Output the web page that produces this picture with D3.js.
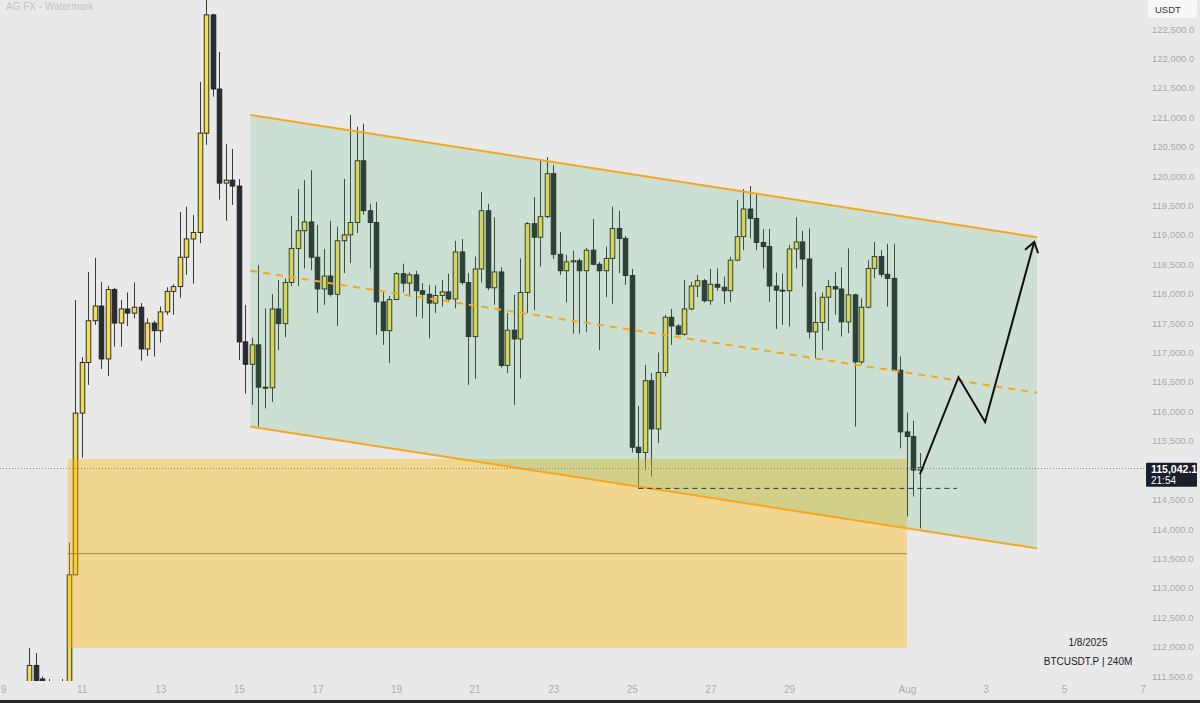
<!DOCTYPE html>
<html><head><meta charset="utf-8">
<script src="https://cdn.jsdelivr.net/npm/d3@7"></script>
<style>html,body{margin:0;padding:0;background:#e9e9e9;overflow:hidden}svg{display:block}</style>
</head><body><svg id="c" width="1200" height="703"></svg>
<script>
// ---------------- DATA ----------------
const firstCandle = "2025-07-09T16:00:00Z";   // 4h candles, BTCUSDT.P
const candleHours = 4;
const opens = [111200,111680,111450,111400,111100,111300,111200,113220,115970,116830,117540,117790,116890,118070,117500,117740,117670,117770,117060,117500,117370,117690,118040,118120,118620,118930,119040,120730,122740,121480,119880,119930,119830,117180,116800,117130,116410,116400,117740,117490,118190,118770,119070,119220,118620,118080,118300,117990,118900,119000,119210,120260,119410,119210,117860,117370,117900,118340,118180,118320,118050,117990,117840,117970,118030,117910,118710,118190,117270,118420,119410,118100,118370,116780,117380,117230,118020,119190,118960,119310,120040,118670,118390,118540,118560,118390,118740,118500,118390,118600,119110,118940,118310,115390,115300,116520,115700,116660,117600,117450,117310,117740,118130,118220,117880,118160,118110,118050,118570,118970,119440,119280,118870,118800,118130,118060,118050,118760,118880,118590,117350,117510,117940,118120,118080,117520,117980,116840,117770,118430,118630,118330,118260,116700,115650,115570,115000];
const highs = [111980,111890,111490,111450,111400,111450,113770,117890,116920,118370,118610,118200,118130,118100,117890,118020,118190,117840,117580,117540,117780,118110,118160,119390,119480,119340,121600,123200,122760,122110,120540,120460,119950,117810,117250,118490,117750,117990,118230,118260,119320,119780,119930,120100,119170,118760,119240,119140,119950,121040,120840,120890,119530,119560,118050,117960,118370,118510,118360,118390,118180,118150,118140,118230,118340,118900,118930,118350,118630,119730,119530,119300,118450,117670,117980,118600,119220,119640,120260,120320,120190,119050,118660,118730,118600,118780,119270,118540,118800,119480,119410,118980,118420,116090,116790,116650,117000,117640,117740,117480,118230,118200,118320,118250,118420,118430,118290,118630,119590,119780,119830,119700,119100,119100,118360,118340,118830,119300,119070,119110,118030,118020,118230,118370,118450,118770,118000,117920,118570,118880,118740,118850,118850,116930,115980,115840,115290];
const lows = [111150,111150,111300,111000,110900,111000,111100,113220,115210,116450,117470,116720,116600,117100,117100,117450,117580,116860,116940,116930,117170,117640,117640,117930,118320,118170,118860,120530,121350,119600,119240,119510,116870,116300,116110,115740,116050,116160,117040,117260,118130,118130,118430,118400,117670,117810,117950,117450,118350,118520,119030,119340,118430,117300,117130,116820,117890,118020,117950,117610,117580,117240,117670,117780,117880,117750,118150,116450,116550,118190,118060,117810,116740,116650,116110,116560,117670,117720,118460,119280,118590,118320,117850,117320,117320,117350,118480,117040,117940,117830,118350,118150,115300,114690,115000,114890,115460,116590,117130,117290,117290,117720,117940,117850,117810,118050,117830,117860,118550,118740,118940,118740,118430,117860,117400,117470,117440,118430,118120,117240,116900,117040,117370,117640,117270,117330,115740,116800,117750,118260,118280,117780,116690,115370,114210,114550,114010];
const closes = [111680,111250,111400,111100,111300,111200,113220,115970,116830,117540,117790,116890,118070,117500,117740,117670,117770,117060,117500,117370,117690,118040,118120,118620,118930,119040,120730,122740,121480,119880,119930,119830,117180,116800,117130,116410,116400,117740,117490,118190,118770,119070,119220,118620,118080,118300,117990,118900,119000,119210,120260,119410,119210,117860,117370,117900,118340,118180,118320,118050,117990,117840,117970,118030,117910,118710,118190,117270,118420,119410,118100,118370,116780,117380,117230,118020,119190,118960,119310,120040,118670,118390,118540,118560,118390,118740,118500,118390,118600,119110,118940,118310,115390,115300,116520,115700,116660,117600,117450,117310,117740,118130,118220,117880,118160,118110,118050,118570,118970,119440,119280,118870,118800,118130,118060,118050,118760,118880,118590,117350,117510,117940,118120,118080,117520,117980,116840,117770,118430,118630,118330,118260,116700,115650,115570,115000,115042.1];

// 115,000.0 is hidden behind the last-price label in the reference
const priceTicks = [111500,112000,112500,113000,113500,114000,114500,115500,116000,116500,117000,117500,118000,118500,119000,119500,120000,120500,121000,121500,122000,122500];
const dayTicks = ["2025-07-09","2025-07-11","2025-07-13","2025-07-15","2025-07-17","2025-07-19","2025-07-21","2025-07-23","2025-07-25","2025-07-27","2025-07-29","2025-08-01","2025-08-03","2025-08-05","2025-08-07"];
const dayTickLabels = ["9","11","13","15","17","19","21","23","25","27","29","Aug","3","5","7"];

// drawings (time, price)
const channelTop = [["2025-07-15T07:00:00Z",121040],["2025-08-04T07:30:00Z",118960]];
const channelBottom = [["2025-07-15T07:00:00Z",115740],["2025-08-04T07:30:00Z",113670]];
const channelMid = [["2025-07-15T07:00:00Z",118390],["2025-08-04T07:30:00Z",116315]];
const zoneTimes = ["2025-07-10T15:30:00Z","2025-08-01T00:00:00Z"];
const zonePrices = [115190,111980];
const zoneMidPrice = 113580;
const supportLine = [["2025-07-25T04:00:00Z",114690],["2025-08-02T06:30:00Z",114690]];
const arrowPath = [["2025-08-01T08:00:00Z",114930],["2025-08-02T07:30:00Z",116580],["2025-08-02T23:45:00Z",115820],["2025-08-04T05:45:00Z",118880]];
const lastPrice = 115042.1;
const countdown = "21:54";
const dateText = "1/8/2025";
const symbolText = "BTCUSDT.P | 240M";
const watermark = "AG FX - Watermark";
const currency = "USDT";

// ---------------- CHART ----------------
const svg = d3.select("#c");
const W = 1200, H = 703, plotR = 1145, plotB = 681;
const FONT = "Liberation Sans, Arial, sans-serif";
const x = d3.scaleUtc().domain([new Date("2025-07-09T00:00:00Z"), new Date("2025-08-07T00:00:00Z")]).range([3, 1142.7]);
const y = d3.scaleLinear().domain([111500, 122500]).range([676, 29]);
const t0 = new Date(firstCandle).getTime();
const candles = opens.map((o, i) => ({t: new Date(t0 + i * candleHours * 3600e3), o, h: highs[i], l: lows[i], c: closes[i]}));
const P = p => [x(new Date(p[0])), y(p[1])];

svg.append("rect").attr("width", W).attr("height", H).attr("fill", "#e9e9e9");
const defs = svg.append("defs");
defs.append("clipPath").attr("id", "plot").append("rect").attr("x", 0).attr("y", 0).attr("width", plotR).attr("height", plotB);
const plot = svg.append("g").attr("clip-path", "url(#plot)");

// watermark
svg.append("text").attr("x", 6).attr("y", 10).text(watermark)
  .attr("font-family", FONT).attr("font-size", 10).attr("fill", "#c4c4c4");

// candles
const bw = 4.6;
const cg = plot.append("g");
cg.selectAll("line.w").data(candles).join("line").attr("class", "w")
  .attr("x1", d => Math.round(x(d.t)) + 0.5).attr("x2", d => Math.round(x(d.t)) + 0.5)
  .attr("y1", d => y(d.h)).attr("y2", d => y(d.l))
  .attr("stroke", "#3a3a3a").attr("stroke-width", 1);
cg.selectAll("rect.b").data(candles).join("rect").attr("class", "b")
  .attr("x", d => Math.round(x(d.t)) + 0.5 - bw / 2)
  .attr("y", d => y(Math.max(d.o, d.c)))
  .attr("width", bw)
  .attr("height", d => Math.max(1, Math.abs(y(d.o) - y(d.c))))
  .attr("fill", d => d.c >= d.o ? "#f5dc55" : "#282c33")
  .attr("stroke", "#1e1e1e").attr("stroke-width", 0.9);

// orange demand zone
const zx0 = x(new Date(zoneTimes[0])), zx1 = x(new Date(zoneTimes[1]));
plot.append("rect").attr("x", zx0).attr("y", y(zonePrices[0])).attr("width", zx1 - zx0)
  .attr("height", y(zonePrices[1]) - y(zonePrices[0])).attr("fill", "rgba(255,183,0,0.38)");
plot.append("line").attr("x1", zx0).attr("x2", zx1).attr("y1", y(zoneMidPrice)).attr("y2", y(zoneMidPrice))
  .attr("stroke", "#9a8550").attr("stroke-width", 1);

// channel fill
const ct0 = P(channelTop[0]), ct1 = P(channelTop[1]), cb0 = P(channelBottom[0]), cb1 = P(channelBottom[1]);
plot.append("path").attr("d", `M${ct0}L${ct1}L${cb1}L${cb0}Z`).attr("fill", "rgba(60,180,100,0.17)");
const line = d3.line();
plot.append("path").attr("d", line([ct0, ct1])).attr("stroke", "#f5a623").attr("stroke-width", 2).attr("fill", "none");
plot.append("path").attr("d", line([cb0, cb1])).attr("stroke", "#f5a623").attr("stroke-width", 2).attr("fill", "none");
plot.append("path").attr("d", line(channelMid.map(P))).attr("stroke", "#f5a623").attr("stroke-width", 2)
  .attr("stroke-dasharray", "7,6").attr("fill", "none");

// support dashed line
plot.append("path").attr("d", line(supportLine.map(P))).attr("stroke", "#333").attr("stroke-width", 1)
  .attr("stroke-dasharray", "5,4").attr("fill", "none");

// current price dotted line
plot.append("line").attr("x1", 0).attr("x2", plotR).attr("y1", Math.round(y(lastPrice)) + 0.5).attr("y2", Math.round(y(lastPrice)) + 0.5)
  .attr("stroke", "#8a8a8a").attr("stroke-width", 1).attr("stroke-dasharray", "1,2");

// projected path arrow
const ap = arrowPath.map(P);
plot.append("path").attr("d", line(ap)).attr("stroke", "#111").attr("stroke-width", 2).attr("fill", "none")
  .attr("stroke-linejoin", "miter");
const [a1, a2] = [ap[ap.length - 2], ap[ap.length - 1]];
const ang = Math.atan2(a2[1] - a1[1], a2[0] - a1[0]);
const L = 12, spread = 0.6;
const w1 = [a2[0] - L * Math.cos(ang - spread), a2[1] - L * Math.sin(ang - spread)];
const w2 = [a2[0] - L * Math.cos(ang + spread), a2[1] - L * Math.sin(ang + spread)];
plot.append("path").attr("d", line([w1, a2, w2])).attr("stroke", "#111").attr("stroke-width", 2).attr("fill", "none");

// right price axis
const yAxis = svg.append("g").attr("transform", "translate(1152,0)")
  .call(d3.axisRight(y).tickValues(priceTicks).tickSize(0).tickPadding(0).tickFormat(d3.format(",.1f")));
yAxis.select(".domain").remove();
yAxis.selectAll("text").attr("fill", "#a8a8a8").attr("font-size", 9.5).attr("font-family", FONT);

// bottom time axis
const xAxis = svg.append("g").attr("transform", `translate(0,${plotB})`)
  .call(d3.axisBottom(x).tickValues(dayTicks.map(d => new Date(d + "T00:00:00Z"))).tickSize(0).tickPadding(5)
    .tickFormat((d, i) => dayTickLabels[i]));
xAxis.select(".domain").remove();
xAxis.selectAll("text").attr("fill", "#acacac").attr("font-size", 10).attr("font-family", FONT);

// bottom dark bar
svg.append("rect").attr("x", 0).attr("y", 700).attr("width", W).attr("height", 3).attr("fill", "#2a2a2a");

// USDT box
svg.append("rect").attr("x", 1148).attr("y", -4).attr("width", 49).attr("height", 22).attr("rx", 3).attr("fill", "#f8f8f8");
svg.append("text").attr("x", 1155).attr("y", 13).text(currency).attr("font-size", 9.5)
  .attr("font-family", FONT).attr("fill", "#333");

// last price label
const ly = y(lastPrice);
svg.append("rect").attr("x", 1146).attr("y", ly - 5).attr("width", 51).attr("height", 24).attr("rx", 1).attr("fill", "#1b1f2b");
svg.append("text").attr("x", 1151).attr("y", ly + 5.5).text(d3.format(",.1f")(lastPrice)).attr("font-size", 10.5)
  .attr("font-weight", "bold").attr("font-family", FONT).attr("fill", "#fff");
svg.append("text").attr("x", 1151).attr("y", ly + 16.5).text(countdown).attr("font-size", 10)
  .attr("font-family", FONT).attr("fill", "#fff");

// info text
svg.append("text").attr("x", 1088).attr("y", 646).attr("text-anchor", "middle").text(dateText)
  .attr("font-size", 10).attr("font-family", FONT).attr("fill", "#1c1c1c");
svg.append("text").attr("x", 1088).attr("y", 665).attr("text-anchor", "middle").text(symbolText)
  .attr("font-size", 10).attr("font-family", FONT).attr("fill", "#1c1c1c");
</script></body></html>
